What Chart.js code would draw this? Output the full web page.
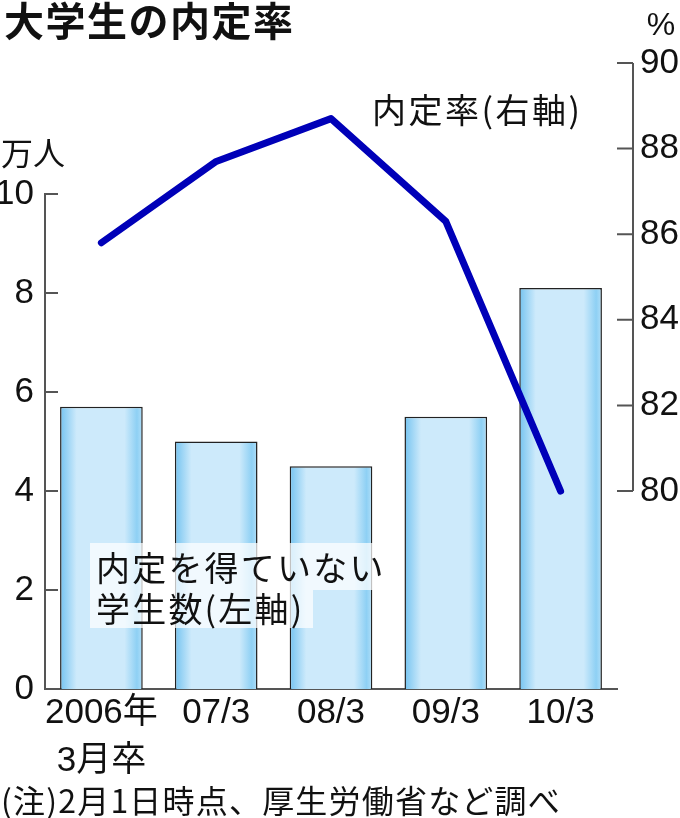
<!DOCTYPE html>
<html>
<head>
<meta charset="utf-8">
<script src="https://cdn.jsdelivr.net/npm/chart.js@4.4.1/dist/chart.umd.min.js"></script>
<style>
  body { margin: 0; background: #fff; }
</style>
</head>
<body>
<canvas id="mycanvas" width="680" height="818"></canvas>
<script>
// data
var categories = [["2006年", "3月卒"], "07/3", "08/3", "09/3", "10/3"];
var students = [5.7, 5.0, 4.5, 5.5, 8.1];        // 万人, left axis
var rate = [85.8, 87.7, 88.7, 86.3, 80.0];       // %, right axis
var leftTicks = [0, 2, 4, 6, 8, 10];
var rightTicks = [80, 82, 84, 86, 88, 90];

var FONT = '"Liberation Sans", "Noto Sans CJK JP", sans-serif';
var JP = '"Noto Sans CJK JP", "Liberation Sans", sans-serif';

function barFill(context) {
	var chart = context.chart;
	if (!chart.chartArea) return '#cceafb';
	var xs = chart.scales.x;
	var cx = xs.getPixelForValue(context.dataIndex);
	var w = (xs.width / categories.length) * 0.72;
	var g = chart.ctx.createLinearGradient(cx - w / 2, 0, cx + w / 2, 0);
	g.addColorStop(0, '#74c3f0');
	g.addColorStop(0.2, '#cdeafb');
	g.addColorStop(0.78, '#cdeafb');
	g.addColorStop(0.93, '#8ed0f4');
	g.addColorStop(1, '#b2dff8');
	return g;
}

function spaced(ctx, text, x, y, sp) {
	ctx.letterSpacing = sp + 'px';
	ctx.fillText(text, x, y);
	ctx.letterSpacing = '0px';
}

// axis lines, tick marks and free texts
var decor = {
	id: 'decor',
	beforeDatasetsDraw: function(chart) {
		var ctx = chart.ctx;
		var yl = chart.scales.yl, yr = chart.scales.yr, a = chart.chartArea;
		ctx.save();
		ctx.strokeStyle = '#555';
		ctx.lineWidth = 2;
		ctx.beginPath();
		ctx.moveTo(a.left + 1, yl.getPixelForValue(10));
		ctx.lineTo(a.left + 1, yl.getPixelForValue(0));
		ctx.lineTo(a.right, yl.getPixelForValue(0));
		leftTicks.forEach(function(v) {
			var y = yl.getPixelForValue(v);
			ctx.moveTo(a.left, y);
			ctx.lineTo(a.left + 14, y);
		});
		var rx = a.right + 15;
		ctx.moveTo(rx, yr.getPixelForValue(90));
		ctx.lineTo(rx, yr.getPixelForValue(80));
		rightTicks.forEach(function(v) {
			var y = yr.getPixelForValue(v);
			ctx.moveTo(rx, y);
			ctx.lineTo(rx - 16, y);
		});
		ctx.stroke();
		ctx.restore();
	},
	afterDatasetsDraw: function(chart) {
		var ctx = chart.ctx;
		ctx.save();
		// note box over the bars
		ctx.fillStyle = 'rgba(255,255,255,0.72)';
		ctx.beginPath();
		ctx.moveTo(90, 543);
		ctx.lineTo(386, 543);
		ctx.lineTo(386, 590);
		ctx.lineTo(313, 590);
		ctx.lineTo(313, 628);
		ctx.lineTo(90, 628);
		ctx.closePath();
		ctx.fill();

		ctx.fillStyle = '#111';
		ctx.textBaseline = 'middle';
		ctx.textAlign = 'left';
		ctx.font = '34px ' + JP;
		spaced(ctx, '内定を得ていない', 96, 568, 2.2);
		spaced(ctx, '学生数(左軸)', 96, 609, 2.2);
		spaced(ctx, '内定率(右軸)', 372, 110, 2.5);

		ctx.font = '32px ' + JP;
		ctx.fillText('万人', 1, 153);
		spaced(ctx, '(注)2月1日時点、厚生労働省など調べ', 1, 801, 1.2);

		ctx.textAlign = 'center';
		ctx.font = '32px ' + FONT;
		ctx.fillText('%', 661, 26);

		ctx.textAlign = 'left';
		ctx.font = 'bold 40px ' + JP;
		spaced(ctx, '大学生の内定率', 4, 21, 1.5);
		ctx.restore();
	}
};

var ctx = document.getElementById('mycanvas');

var chart = new Chart(ctx, {
	data: {
		labels: categories,
		datasets: [
			{
				type: 'line',
				label: '内定率(右軸)',
				data: rate,
				yAxisID: 'yr',
				borderColor: '#0000b8',
				borderWidth: 7,
				borderCapStyle: 'round',
				borderJoinStyle: 'round',
				pointRadius: 0,
				tension: 0,
				order: 1
			},
			{
				type: 'bar',
				label: '内定を得ていない学生数(左軸)',
				data: students,
				yAxisID: 'yl',
				backgroundColor: barFill,
				borderColor: '#222',
				borderWidth: 1.5,
				barPercentage: 0.72,
				categoryPercentage: 1,
				order: 2
			}
		]
	},
	options: {
		responsive: false,
		animation: false,
		layout: { padding: { top: 63, left: 0, right: 0, bottom: 0 } },
		plugins: {
			legend: { display: false },
			tooltip: { enabled: false }
		},
		scales: {
			x: {
				grid: { display: false, drawTicks: false },
				border: { display: false },
				ticks: {
					color: '#111',
					font: { family: FONT, size: 35, lineHeight: 1.36 },
					padding: 1,
					maxRotation: 0,
					autoSkip: false
				},
				afterFit: function(s) { s.height = 129; }
			},
			yl: {
				position: 'left',
				min: 0,
				max: 12.646,
				grid: { display: false, drawTicks: false },
				border: { display: false },
				ticks: {
					color: '#111',
					font: { family: FONT, size: 35 },
					padding: 10
				},
				afterBuildTicks: function(s) {
					s.ticks = leftTicks.map(function(v) { return { value: v }; });
				},
				afterFit: function(s) { s.width = 44; }
			},
			yr: {
				position: 'right',
				min: 75.374,
				max: 90,
				grid: { display: false, drawTicks: false },
				border: { display: false },
				ticks: {
					color: '#111',
					font: { family: FONT, size: 35 },
					padding: 22
				},
				afterBuildTicks: function(s) {
					s.ticks = rightTicks.map(function(v) { return { value: v }; });
				},
				afterFit: function(s) { s.width = 62; }
			}
		}
	},
	plugins: [decor]
});
</script>
</body>
</html>
